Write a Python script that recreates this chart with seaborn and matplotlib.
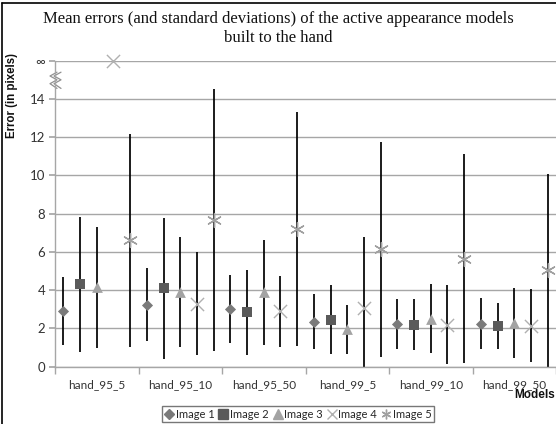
import numpy as np
import pandas as pd
import matplotlib
matplotlib.use("Agg")
import matplotlib.pyplot as plt
import seaborn as sns
from matplotlib.lines import Line2D
from matplotlib.transforms import blended_transform_factory

models = ["hand_95_5", "hand_95_10", "hand_95_50", "hand_99_5", "hand_99_10", "hand_99_50"]
images = ["Image 1", "Image 2", "Image 3", "Image 4", "Image 5"]

# mean errors per image (rows = models); np.inf = infinite error
mean_img1 = [2.9, 3.25, 3.0, 2.35, 2.25, 2.25]
mean_img2 = [4.3, 4.1, 2.85, 2.45, 2.2, 2.15]
mean_img3 = [4.15, 3.9, 3.9, 1.95, 2.5, 2.3]
mean_img4 = [np.inf, 3.3, 2.9, 3.05, 2.2, 2.15]
mean_img5 = [6.6, 7.65, 7.2, 6.15, 5.65, 5.05]

# standard deviations
sd_img1 = [1.78, 1.9, 1.78, 1.45, 1.3, 1.33]
sd_img2 = [3.55, 3.7, 2.22, 1.8, 1.35, 1.2]
sd_img3 = [3.18, 2.88, 2.75, 1.3, 1.8, 1.83]
sd_img4 = [np.nan, 2.7, 1.85, 3.75, 2.05, 1.9]
sd_img5 = [5.55, 6.85, 6.1, 5.62, 5.45, 5.05]

y_ticks = [0, 2, 4, 6, 8, 10, 12, 14, 16]
y_ticklabels = ["0", "2", "4", "6", "8", "10", "12", "14", "\u221e"]
inf_value = 16

means = [mean_img1, mean_img2, mean_img3, mean_img4, mean_img5]
sds = [sd_img1, sd_img2, sd_img3, sd_img4, sd_img5]

rows = []
for j, img in enumerate(images):
    for i, m in enumerate(models):
        mu = means[j][i]
        rows.append(dict(model=m, image=img, mi=i, ij=j,
                         mean=mu, plot_mean=(inf_value if np.isinf(mu) else mu),
                         sd=sds[j][i]))
df = pd.DataFrame(rows)
df["x"] = df["mi"] + (df["ij"] - 2) * 0.2

sns.set_theme(style="white")
plt.rcParams["font.family"] = ["Lato", "DejaVu Sans"]

fig = plt.figure(figsize=(5.56, 4.24), dpi=100)
ax = fig.add_axes([55 / 556, 1 - 366.7 / 424, 1 - 55 / 556, (366.7 - 60.7) / 424])

grid_c = "#a6a6a6"
for yt in y_ticks:
    ax.axhline(yt, color=grid_c, lw=1.0, zorder=0)

# error bars
eb = df.dropna(subset=["sd"])
ax.vlines(eb["x"], eb["mean"] - eb["sd"], eb["mean"] + eb["sd"], color="black", lw=1.25, zorder=2)

palette = {"Image 1": "#7a7a7a", "Image 2": "#5a5a5a", "Image 3": "#a3a3a3",
           "Image 4": "#b0b0b0", "Image 5": "#a0a0a0"}
markers = {"Image 1": "D", "Image 2": "s", "Image 3": "^", "Image 4": "x", "Image 5": (6, 2, 0)}
sizes = {"Image 1": 32, "Image 2": 60, "Image 3": 60, "Image 4": 90, "Image 5": 100}

for img in images:
    sub = df[df["image"] == img]
    sns.scatterplot(data=sub, x="x", y="plot_mean", color=palette[img], marker=markers[img],
                    s=sizes[img], ax=ax, zorder=3, linewidth=(1.0 if img in ("Image 4", "Image 5") else 0),
                    edgecolor=palette[img], legend=False, clip_on=False)

ax.set_xlim(-0.5, len(models) - 0.5)
ax.set_ylim(0, inf_value)
ax.set_xticks(np.arange(len(models)))
ax.set_xticklabels(models)
ax.set_xticks(np.arange(len(models) + 1) - 0.5, minor=True)
ax.tick_params(axis="x", which="major", length=0, pad=9, labelsize=8.5, labelcolor="#333333")
ax.tick_params(axis="x", which="minor", length=5, color=grid_c, direction="out", bottom=True)
ax.set_yticks(y_ticks)
ax.set_yticklabels(y_ticklabels)
ax.tick_params(axis="y", length=4, color=grid_c, direction="out", left=True, labelsize=9.5,
               labelcolor="#333333", pad=3)
ax.set_xlabel("")
ax.set_ylabel("")
for s in ["top", "right"]:
    ax.spines[s].set_visible(False)
for s in ["left", "bottom"]:
    ax.spines[s].set_color(grid_c)
    ax.spines[s].set_linewidth(1.0)

# axis break symbol on the y axis
zig_y = [14.55, 14.8, 15.0, 15.2, 15.4]
zig_px = [0, -7, 0, -7, 0]
tr = blended_transform_factory(ax.transAxes, ax.transData)
axw = 556 - 55
xs_ax = [(v + 2) / axw for v in zig_px]
ax.plot(xs_ax, zig_y, transform=tr, color="#909090", lw=0.9, clip_on=False)
ax.plot([v + 4 / axw for v in xs_ax], zig_y, transform=tr, color="#909090", lw=0.9, clip_on=False)

# titles
fig.text(0.5, 1 - 28.5 / 424, "Mean errors (and standard deviations) of the active appearance models\nbuilt to the hand",
         ha="center", va="center", fontsize=12, family=["Liberation Serif", "DejaVu Serif"],
         linespacing=1.3, color="#111111")
fig.text(12 / 556, 1 - 96 / 424, "Error (in pixels)", rotation=90, ha="center", va="center",
         fontsize=8.3, fontweight="bold", family=["Liberation Sans", "DejaVu Sans"], color="#111111")
fig.text(555 / 556, 1 - 395 / 424, "Models", ha="right", va="center", fontsize=8.5,
         fontweight="bold", family=["Liberation Sans", "DejaVu Sans"], color="#111111")

# legend
handles = []
for img in images:
    handles.append(Line2D([], [], linestyle="none", marker=markers[img], color=palette[img],
                          markersize=(5 if img == "Image 1" else 7), markeredgewidth=1.0))
leg = fig.legend(handles, images, loc="center", bbox_to_anchor=(298 / 556, 1 - 414 / 424), ncol=5,
                 frameon=True, fontsize=8, handlelength=0.8, handletextpad=0.2, columnspacing=0.4,
                 borderpad=0.25, fancybox=False, edgecolor="#555555")
leg.get_frame().set_linewidth(1.0)

# outer chart frame (cropped on right and bottom)
fig.add_artist(Line2D([1.5 / 556, 1.5 / 556], [0, 1 - 3 / 424], color="black", lw=1.2, transform=fig.transFigure))
fig.add_artist(Line2D([1.5 / 556, 1], [1 - 3 / 424, 1 - 3 / 424], color="black", lw=1.2, transform=fig.transFigure))

fig.savefig("out.png", dpi=100)
